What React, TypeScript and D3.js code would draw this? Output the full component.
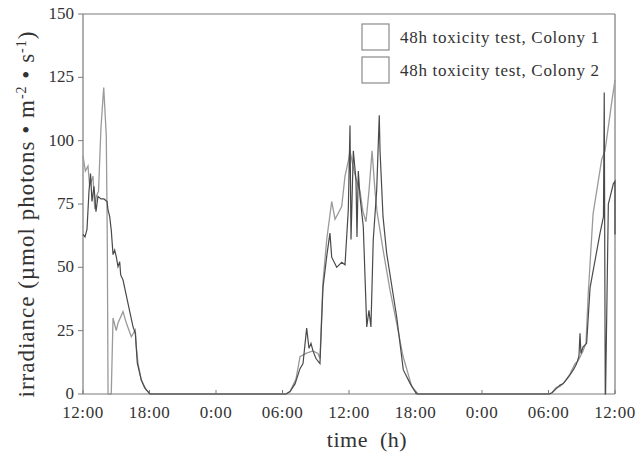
import React from "react";
import * as d3 from "d3";

const tickLabels = ["12:00", "18:00", "0:00", "06:00", "12:00", "18:00", "0:00", "06:00", "12:00"];
const yTicks = [0, 25, 50, 75, 100, 125, 150];
const seriesNames = ["48h toxicity test, Colony 1", "48h toxicity test, Colony 2"];

// Colony 1 (darker line): hours since 12:00 day 1, irradiance
const hours1 = [
  0, 0.18, 0.36, 0.54, 0.68, 0.81, 0.99, 1.17, 1.35, 1.62, 1.89, 2.17, 2.26, 2.41, 2.55, 2.71, 2.86, 3.0, 3.16, 3.31, 3.4, 3.61, 4.06, 4.51, 4.72, 4.9, 5.26, 5.57, 6.02,
  18.32, 18.68, 19.13, 19.58, 19.85, 20.18, 20.39, 20.57, 20.75, 21.02, 21.38, 21.65, 22.01, 22.28, 22.44, 22.89, 23.34, 23.64, 23.94, 24.09, 24.18, 24.39, 24.63, 24.72, 24.84, 24.99, 25.29, 25.6, 25.8, 25.98, 26.19, 26.5, 26.73, 26.8, 27.07, 27.4, 28.3, 28.9, 29.5, 29.95, 30.14,
  42.05, 42.32, 42.68, 43.04, 43.31, 43.67, 43.94, 44.3, 44.54, 44.75, 44.84, 44.93, 45.11, 45.44, 45.75, 46.65, 46.96, 47.03, 47.12, 47.15, 47.4, 47.85, 48.0, 48.0,
];
const values1 = [
  63, 62, 65, 80, 87, 76, 82, 72, 78, 77, 77, 76, 72.6, 70, 64.7, 55, 56.8, 54.2, 50.3, 52.2, 47, 45, 35.8, 26.6, 24, 12.2, 5.5, 2.4, 0,
  0, 1, 4, 10, 12, 26, 18, 20, 17, 14, 12, 42, 55, 63.5, 54, 50, 52, 51, 73, 106, 61, 96, 84.5, 62, 88, 78, 66, 26.5, 33, 26.5, 61, 80.5, 110, 96, 70, 55.5, 30.5, 9.5, 4.3, 1, 0,
  0, 0.5, 2, 3.5, 4, 6, 7.5, 10, 12, 15, 24, 16, 18.5, 20, 42, 63.5, 70, 119, 0, 0, 75, 83, 84, 63,
];

// Colony 2 (lighter line)
const hours2 = [
  0, 0.21, 0.45, 0.6, 0.9, 1.06, 1.2, 1.4, 1.62, 1.87, 2.1, 2.19, 2.26, 2.55, 2.71, 3.0, 3.16, 3.61, 3.91, 4.36, 4.72, 4.81, 4.96, 5.26, 5.71, 6.11,
  18.32, 18.68, 19.22, 19.58, 20.12, 20.75, 21.2, 21.38, 21.65, 21.99, 22.44, 22.74, 23.34, 23.64, 23.94, 24.09, 24.36, 24.63, 24.99, 25.26, 25.53, 25.8, 26.08, 26.35, 26.53, 27.07, 27.7, 28.3, 28.87, 29.66, 30.23,
  42.05, 42.32, 42.68, 43.04, 43.49, 43.94, 44.39, 44.66, 45.11, 45.38, 45.59, 46.02, 46.8, 47.1, 47.7, 48.0,
];
const values2 = [
  94, 88, 90, 82, 86, 73, 78, 80, 105, 121, 102, 62, 0, 0, 30, 25, 28, 32.5, 28, 22.6, 25.3, 18.7, 12.2, 5.5, 1.6, 0,
  0, 1, 6, 14.7, 16, 17, 16, 14, 44, 61, 76, 69, 74, 86, 92, 96, 90, 85, 80, 72, 68, 80, 96, 80, 72, 57, 41, 28, 15, 3, 0,
  0, 0.5, 2.5, 3, 5, 8, 12, 13, 17, 20, 40, 71, 92.6, 96, 115, 124,
];

const W = 638;
const H = 457;
const left = 83, right = 615, top = 14, bottom = 394;
const serif = "'Liberation Serif', 'DejaVu Serif', serif";

export default function App() {
  const x = d3.scaleLinear().domain([0, 48]).range([left, right]);
  const y = d3.scaleLinear().domain([0, 150]).range([bottom, top]);
  const line = d3.line<[number, number]>().x((d) => x(d[0])).y((d) => y(d[1]));
  const pts1: [number, number][] = hours1.map((h, i) => [h, values1[i]]);
  const pts2: [number, number][] = hours2.map((h, i) => [h, values2[i]]);
  const xt = d3.range(0, 49, 6);
  const axisColor = "#7a7a7a";

  return (
    <svg width={W} height={H} style={{ position: "absolute", left: 0, top: 0, background: "#fff" }}>
      {/* frame */}
      <line x1={left} y1={top} x2={right} y2={top} stroke={axisColor} strokeWidth={1.2} />
      <line x1={right} y1={top} x2={right} y2={bottom} stroke={axisColor} strokeWidth={1.2} />
      <line x1={left} y1={top} x2={left} y2={bottom} stroke={axisColor} strokeWidth={1.2} />
      <line x1={left} y1={bottom} x2={right} y2={bottom} stroke={axisColor} strokeWidth={1.2} />
      {/* y ticks */}
      {yTicks.map((v) => (
        <g key={v}>
          <line x1={left - 5} x2={left} y1={y(v)} y2={y(v)} stroke={axisColor} strokeWidth={1} />
          <text x={left - 9} y={y(v)} dy="0.3em" textAnchor="end" fontFamily={serif} fontSize={17} fill="#333">
            {v}
          </text>
        </g>
      ))}
      {/* x ticks */}
      {xt.map((t, i) => (
        <g key={t}>
          <line x1={x(t)} x2={x(t)} y1={bottom} y2={bottom - 4} stroke={axisColor} strokeWidth={1} />
          <text x={x(t)} y={bottom + 24} textAnchor="middle" fontFamily={serif} fontSize={17} letterSpacing={0.6} fill="#333">
            {tickLabels[i]}
          </text>
        </g>
      ))}
      {/* data */}
      <path d={line(pts2) || ""} fill="none" stroke="#9a9a9a" strokeWidth={1.3} />
      <path d={line(pts1) || ""} fill="none" stroke="#4a4a4a" strokeWidth={1.2} />
      {/* legend */}
      {seriesNames.map((name, i) => (
        <g key={name}>
          <rect x={362} y={24 + i * 33} width={27} height={26} fill="#fff" stroke="#8a8a8a" strokeWidth={1.2} />
          <text x={400} y={43 + i * 33} fontFamily={serif} fontSize={17} letterSpacing={0.7} fill="#333">
            {name}
          </text>
        </g>
      ))}
      {/* axis titles */}
      <text x={367} y={447} textAnchor="middle" fontFamily={serif} fontSize={22} letterSpacing={0.5} fill="#333" style={{ whiteSpace: "pre" }}>
        {"time  (h)"}
      </text>
      <text
        transform="translate(34, 214) rotate(-90)"
        textAnchor="middle"
        fontFamily={serif}
        fontSize={23}
        letterSpacing={1}
        fill="#333"
      >
        irradiance (µmol photons • m
        <tspan dy={-8} fontSize={14}>-2</tspan>
        <tspan dy={8}> • s</tspan>
        <tspan dy={-8} fontSize={14}>-1</tspan>
        <tspan dy={8}>)</tspan>
      </text>
    </svg>
  );
}
